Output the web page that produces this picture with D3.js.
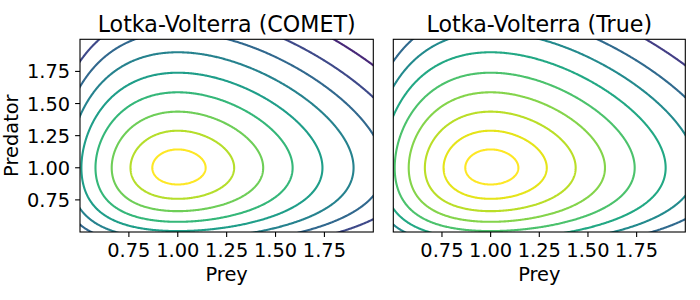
<!DOCTYPE html>
<html>
<head>
<meta charset="utf-8">
<script src="https://cdn.jsdelivr.net/npm/d3@7"></script>
<style>
  body { margin: 0; background: #fff; }
  text { font-family: "DejaVu Sans", sans-serif; fill: #000; }
</style>
</head>
<body>
<div id="chart"></div>
<script>
// níveis das curvas (H - Hmin), do centro para fora
var cometLevels = [0.0093, 0.035, 0.0744, 0.1253, 0.1861, 0.2577, 0.335, 0.418, 0.518, 0.63];
var trueLevels  = [0.0093, 0.035, 0.0744, 0.1253, 0.1861, 0.2577, 0.335, 0.418, 0.518, 0.63];
var xTicks = [0.75, 1.00, 1.25, 1.50, 1.75];
var yTicks = [0.75, 1.00, 1.25, 1.50, 1.75];
var xDomain = [0.5, 2.0];
var yDomain = [0.5, 2.0];
var titles = ["Lotka-Volterra (COMET)", "Lotka-Volterra (True)"];

var W = 700, H = 300;
var top0 = 39.3, bottom0 = 232;
var fs = 19.4;
var panels = [
  {x0: 80, x1: 373.3, levels: cometLevels, title: titles[0], yAxis: true, byIndex: true},
  {x0: 393.3, x1: 685.3, levels: trueLevels, title: titles[1], yAxis: false, byIndex: false}
];

// grade da quantidade conservada de Lotka-Volterra (maior que a janela, para não fechar anéis na borda)
var g0 = 0.2, g1 = 2.8, step = 0.005;
var n = Math.round((g1 - g0) / step) + 1;
var field = new Float64Array(n * n);
for (var j = 0; j < n; j++) {
  var y = g0 + j * step;
  for (var i = 0; i < n; i++) {
    var x = g0 + i * step;
    field[j * n + i] = -((x - Math.log(x) - 1) + (y - Math.log(y) - 1));
  }
}
function gridX(c) { return g0 + (c - 0.5) * step; }

var svg = d3.select("#chart").append("svg")
  .attr("width", W).attr("height", H);

panels.forEach(function(p, k) {
  var xs = d3.scaleLinear().domain(xDomain).range([p.x0, p.x1]);
  var ys = d3.scaleLinear().domain(yDomain).range([bottom0, top0]);
  var g = svg.append("g");

  svg.append("clipPath").attr("id", "clip" + k)
    .append("rect").attr("x", p.x0).attr("y", top0)
    .attr("width", p.x1 - p.x0).attr("height", bottom0 - top0);

  var lv = p.levels;
  var color;
  if (p.byIndex) {
    var ci = d3.scaleLinear().domain([0, lv.length - 1]).range([1, 0]);
    color = function(d, idx) { return d3.interpolateViridis(ci(idx)); };
  } else {
    var cv = d3.scaleLinear().domain([d3.min(lv), d3.max(lv)]).range([1, 0]);
    color = function(d) { return d3.interpolateViridis(cv(d)); };
  }

  var contours = d3.contours().size([n, n])
    .thresholds(lv.map(function(d) { return -d; }))(field);

  var line = d3.line()
    .x(function(pt) { return xs(gridX(pt[0])); })
    .y(function(pt) { return ys(gridX(pt[1])); });

  var cg = g.append("g").attr("clip-path", "url(#clip" + k + ")");
  contours.forEach(function(c) {
    var lvl = -c.value;
    var idx = lv.indexOf(lvl);
    var dstr = "";
    c.coordinates.forEach(function(poly) {
      poly.forEach(function(ring) { dstr += line(ring) + "Z"; });
    });
    cg.append("path").attr("d", dstr)
      .attr("fill", "none")
      .attr("stroke", color(lvl, idx))
      .attr("stroke-width", 2.1)
      .attr("stroke-linejoin", "round");
  });

  // moldura
  g.append("rect").attr("x", p.x0).attr("y", top0)
    .attr("width", p.x1 - p.x0).attr("height", bottom0 - top0)
    .attr("fill", "none").attr("stroke", "#000").attr("stroke-width", 1.1);

  // eixo X
  xTicks.forEach(function(t) {
    g.append("line").attr("x1", xs(t)).attr("x2", xs(t))
      .attr("y1", bottom0).attr("y2", bottom0 + 4.9)
      .attr("stroke", "#000").attr("stroke-width", 1.1);
    g.append("text").attr("x", xs(t)).attr("y", 257)
      .attr("text-anchor", "middle").attr("font-size", fs)
      .text(t.toFixed(2));
  });
  g.append("text").attr("x", (p.x0 + p.x1) / 2).attr("y", 281)
    .attr("text-anchor", "middle").attr("font-size", fs).text("Prey");

  // eixo Y só no primeiro painel
  if (p.yAxis) {
    yTicks.forEach(function(t) {
      g.append("line").attr("x1", p.x0 - 4.9).attr("x2", p.x0)
        .attr("y1", ys(t)).attr("y2", ys(t))
        .attr("stroke", "#000").attr("stroke-width", 1.1);
      g.append("text").attr("x", p.x0 - 9.8).attr("y", ys(t) + 7)
        .attr("text-anchor", "end").attr("font-size", fs)
        .text(t.toFixed(2));
    });
    g.append("text")
      .attr("transform", "translate(18," + ((top0 + bottom0) / 2) + ") rotate(-90)")
      .attr("text-anchor", "middle").attr("font-size", fs).text("Predator");
  }

  // título
  g.append("text").attr("x", (p.x0 + p.x1) / 2).attr("y", 31.5)
    .attr("text-anchor", "middle").attr("font-size", 22.2).text(p.title);
});
</script>
</body>
</html>
